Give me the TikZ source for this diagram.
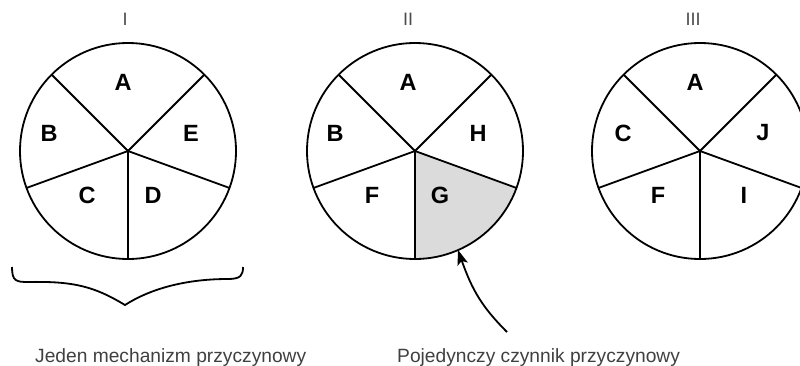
\documentclass[tikz,border=0pt]{standalone}
\usepackage{fontspec}
\setmainfont{Liberation Sans}
\usetikzlibrary{arrows.meta,calc}
\tikzset{
  rim/.style={line width=1.8pt, black},
  spoke/.style={line width=1.8pt, black},
  seglabel/.style={font=\bfseries\fontsize{23.5}{28}\selectfont, inner sep=0pt},
  numlabel/.style={font=\fontsize{18}{22}\selectfont, text=black!70, inner sep=0pt, anchor=base},
  caption/.style={font=\fontsize{19.2}{23}\selectfont, text=black!75, inner sep=0pt, anchor=base west},
  bracestyle/.style={line width=1.8pt, black},
  pointer/.style={line width=1.8pt, black, shorten >=10pt},
  headfill/.style={fill=black},
  shade/.style={fill=black!14}
}
\begin{document}
\begin{tikzpicture}[x=1pt,y=1pt]
\useasboundingbox (0,0) rectangle (800,365);
\clip (0,0) rectangle (800,365);
\def\R{108}
\coordinate (c1) at (128,214);
\coordinate (c2) at (415,214);
\coordinate (c3) at (700,214);

% shaded sector G
\fill[shade] (c2) -- ++(270:\R) arc[start angle=270,end angle=340,radius=\R] -- cycle;

% circles and spokes
\foreach \c in {c1,c2,c3}{
  \draw[rim] (\c) circle[radius=\R];
  \foreach \a in {45,135,200,270,340}{
    \draw[spoke] (\c) -- ++(\a:\R);
  }
}

% numerals
\node[numlabel] (n1) at (125,339) {I};
\node[numlabel] (n2) at (408,339) {II};
\node[numlabel] (n3) at (693,339) {III};

% circle I labels
\node[seglabel] (a1) at ($(c1)+(-5,69)$) {A};
\node[seglabel] (b1) at ($(c1)+(-79,18)$) {B};
\node[seglabel] (e1) at ($(c1)+(63,18)$) {E};
\node[seglabel] (cc1) at ($(c1)+(-41,-44)$) {C};
\node[seglabel] (d1) at ($(c1)+(25,-44)$) {D};

% circle II labels
\node[seglabel] (a2) at ($(c2)+(-7,69)$) {A};
\node[seglabel] (b2) at ($(c2)+(-80,18)$) {B};
\node[seglabel] (h2) at ($(c2)+(63,18)$) {H};
\node[seglabel] (f2) at ($(c2)+(-43,-44)$) {F};
\node[seglabel] (g2) at ($(c2)+(25,-44)$) {G};

% circle III labels
\node[seglabel] (a3) at ($(c3)+(-5,69)$) {A};
\node[seglabel] (cc3) at ($(c3)+(-77,18)$) {C};
\node[seglabel] (j3) at ($(c3)+(63,18)$) {J};
\node[seglabel] (f3) at ($(c3)+(-42,-44)$) {F};
\node[seglabel] (i3) at ($(c3)+(44,-44)$) {I};

% brace under circle I
\draw[bracestyle] (12,98) .. controls (12,84) and (16,83) .. (28,83)
  .. controls (75,84) and (95,78) .. (125,60)
  .. controls (150,76) and (185,86) .. (228,86)
  .. controls (241,86) and (243,90) .. (243,98);

% pointer to sector G
\coordinate (tipG) at ($(c2)+(-66.5:\R)$);
\coordinate (tail) at (507,33);
\draw[pointer] (tail) .. controls (482,58) and (472,75) .. (tipG);
\fill[headfill, shift={(tipG)}, rotate=108] (0,0) -- (-15,5.5) -- (-11.5,0) -- (-15,-5.5) -- cycle;

% captions
\node[caption] (cap1) at (35,3) {Jeden mechanizm przyczynowy};
\node[caption] (cap2) at (397,3) {Pojedynczy czynnik przyczynowy};
\end{tikzpicture}
\end{document}
